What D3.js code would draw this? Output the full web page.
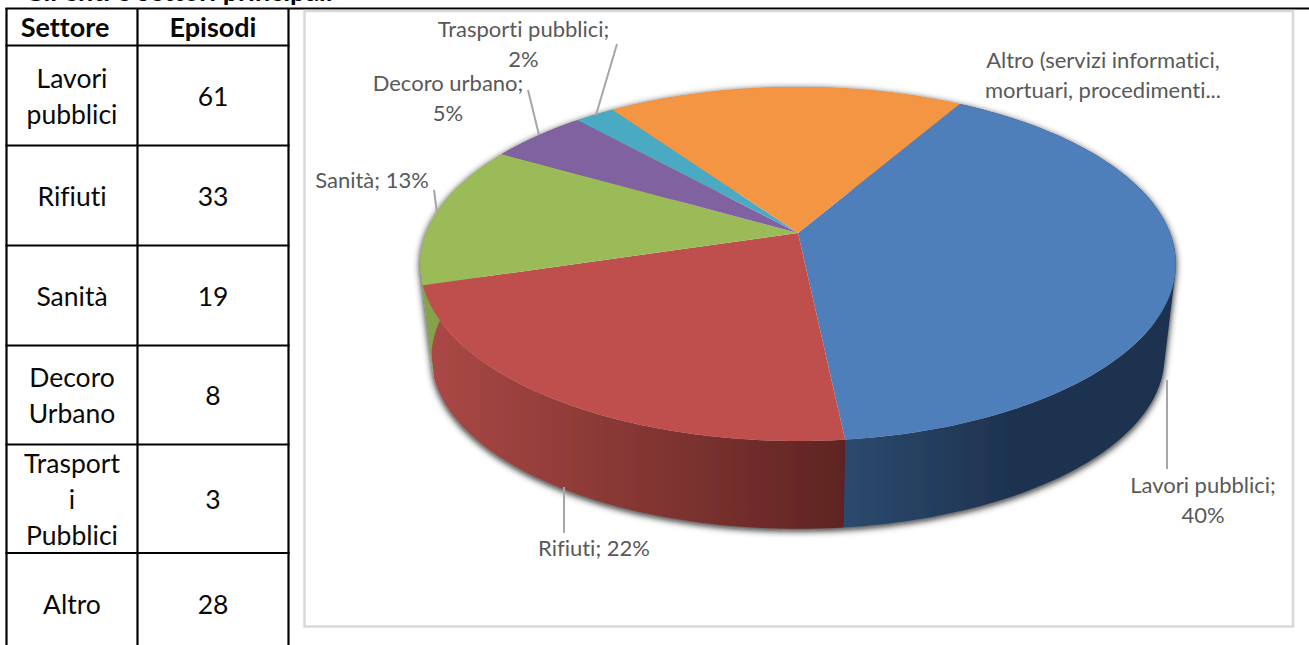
<!DOCTYPE html>
<html lang="it">
<head>
<meta charset="utf-8">
<title>Episodi per settore</title>
<script src="https://cdn.jsdelivr.net/npm/d3@7"></script>
<style>
  html, body { margin: 0; padding: 0; background: #fff; overflow: hidden; }
  svg { display: block; }
  text { font-family: Lato, "Open Sans", sans-serif; font-variant-ligatures: none; }
</style>
</head>
<body>
<svg id="chart" width="1309" height="645"></svg>
<script>
// Episodes per sector for the table, rounded percentage shares for the pie
const sectors = ["Lavori pubblici", "Rifiuti", "Sanità", "Decoro urbano", "Trasporti pubblici", "Altro"];
const episodes = [61, 33, 19, 8, 3, 28];
const shares = [40, 22, 13, 5, 2, 18];
const tableHeader = ["Settore", "Episodi"];
const tableSectorLines = [["Lavori", "pubblici"], ["Rifiuti"], ["Sanità"], ["Decoro", "Urbano"], ["Trasport", "i", "Pubblici"], ["Altro"]];
const topColors = ["#4f7fbb", "#bf4f4c", "#9bba58", "#8062a0", "#4aaac3", "#f49544"];
const wallFrom = ["#2b4a6e", "#aa4845", "#84a24a", "#6b5288", "#3d8fa5", "#d07a36"];
const wallTo = ["#1e3350", "#5f2422", "#84a24a", "#6b5288", "#3d8fa5", "#d07a36"];
const altroLabel = ["Altro (servizi informatici,", "mortuari, procedimenti..."];

const svg = d3.select("#chart");

/* ---------- table on the left ---------- */
const colX = [6.5, 137.5, 288.5];
const rowY = [8.5, 45.5, 145.5, 245.5, 345.5, 444.5, 553, 655];
const tableG = svg.append("g");
const tableText = { size: 26.5, lineGap: 36 };

colX.forEach(x => tableG.append("line")
  .attr("x1", x).attr("x2", x).attr("y1", 8).attr("y2", 645)
  .attr("stroke", "#000").attr("stroke-width", 2.2));
rowY.slice(1, 7).forEach(y => tableG.append("line")
  .attr("x1", 5.5).attr("x2", 289.5).attr("y1", y).attr("y2", y)
  .attr("stroke", "#000").attr("stroke-width", 2.2));

function cellText(lines, cx, top, bottom, opts = {}) {
  const mid = (top + bottom) / 2;
  const gap = tableText.lineGap;
  lines.forEach((line, i) => {
    tableG.append("text")
      .attr("x", cx)
      .attr("y", mid + (i - (lines.length - 1) / 2) * gap + 10)
      .attr("text-anchor", "middle")
      .attr("font-size", opts.size || tableText.size)
      .attr("font-weight", opts.weight || 400)
      .attr("fill", "#0a0a0a")
      .text(line);
  });
}
const headerX = [65, 213];
tableHeader.forEach((h, i) => cellText([h], headerX[i], rowY[0], rowY[1] - 1, { weight: 700, size: 27 }));
tableSectorLines.forEach((lines, i) => {
  cellText(lines, (colX[0] + colX[1]) / 2, rowY[i + 1], rowY[i + 2]);
  cellText([String(episodes[i])], (colX[1] + colX[2]) / 2, rowY[i + 1], rowY[i + 2]);
});

/* ---------- heading cut by the top edge of the page ---------- */
svg.append("text")
  .attr("x", 24).attr("y", 0.5)
  .attr("font-size", 27).attr("font-weight", 700).attr("fill", "#000")
  .text("Gli enti e settori principali");

/* ---------- chart frame ---------- */
svg.append("line").attr("x1", 5.5).attr("x2", 1309).attr("y1", 8.5).attr("y2", 8.5)
  .attr("stroke", "#000").attr("stroke-width", 2);
svg.append("rect")
  .attr("x", 304.5).attr("y", 11).attr("width", 988.5).attr("height", 615.5)
  .attr("fill", "#fff").attr("stroke", "#d9d9d9").attr("stroke-width", 2.5);

/* ---------- 3D pie with a perspective projection of the unit disc ---------- */
const view = { cx: 798, topCy: 233, baseCy: 327, rx: 372, ry: 171.6, k: 0.175, baseScale: 0.97 };

function project(theta, radius, base) {
  const u = radius * Math.sin(theta);
  const v = -radius * Math.cos(theta);
  const w = 1 - view.k * v;
  const s = base ? view.baseScale : 1;
  return [view.cx + s * view.rx * u / w, (base ? view.baseCy : view.topCy) + s * view.ry * v / w];
}

const pie = d3.pie().sort(null).startAngle(Math.PI / 6).endAngle(Math.PI / 6 + 2 * Math.PI);
const slices = pie(shares);
const topColor = d3.scaleOrdinal().domain(sectors).range(topColors);
const line = d3.line();

const arcPoints = (a, b, base) => d3.range(0, 121).map(i => project(a + (b - a) * i / 120, 1, base));

// The side of a slice is the sweep of its vertical generators: one quad per step,
// all wound the same way so that overlaps near the silhouette stay filled.
function wallPath(d) {
  const up = arcPoints(d.startAngle, d.endAngle, false);
  const low = arcPoints(d.startAngle, d.endAngle, true);
  return d3.range(up.length - 1).map(i => {
    const quad = [up[i], up[i + 1], low[i + 1], low[i]];
    return line(d3.polygonArea(quad) > 0 ? quad : quad.reverse()) + "Z";
  }).join("");
}

const defs = svg.append("defs");
const shadow = defs.append("filter").attr("id", "wallShadow")
  .attr("x", "-10%").attr("y", "-10%").attr("width", "120%").attr("height", "120%");
shadow.append("feDropShadow")
  .attr("dx", 0).attr("dy", 2).attr("stdDeviation", 3.5)
  .attr("flood-color", "#111").attr("flood-opacity", 0.95);

// Wall shading runs along x, from the lit flank towards the darker front
const wallRange = [[845, 1010], [431, 845], [420, 432], [420, 600], [560, 640], [600, 960]];
slices.forEach((d, i) => {
  const grad = defs.append("linearGradient").attr("id", `wall${i}`)
    .attr("gradientUnits", "userSpaceOnUse")
    .attr("x1", wallRange[i][0]).attr("x2", wallRange[i][1])
    .attr("y1", 0).attr("y2", 0);
  grad.append("stop").attr("offset", 0).attr("stop-color", wallFrom[i]);
  grad.append("stop").attr("offset", 1).attr("stop-color", wallTo[i]);
});

const walls = svg.append("g").attr("filter", "url(#wallShadow)");
walls.selectAll("path").data(slices).join("path")
  .attr("d", wallPath)
  .attr("fill", (d, i) => `url(#wall${i})`);

svg.append("g").selectAll("path").data(slices).join("path")
  .attr("d", d => line([project(0, 0, false)].concat(arcPoints(d.startAngle, d.endAngle, false))) + "Z")
  .attr("fill", (d, i) => topColor(sectors[i]));

/* ---------- data labels and leader lines ---------- */
const pct = v => `${v}%`;
const labelColor = "#595959";
const labelSize = 22;
const labelLead = 29.5;

const labelLayout = [
  { lines: [`${sectors[0]};`, pct(shares[0])], x: 1203, y: 493, leader: [[1167, 380], [1167, 469]] },
  { lines: [`${sectors[1]}; ${pct(shares[1])}`], x: 594, y: 556, leader: [[564, 487], [564, 533]] },
  { lines: [`${sectors[2]}; ${pct(shares[2])}`], x: 372, y: 188, leader: [[434, 190], [437, 213]] },
  { lines: [`${sectors[3]};`, pct(shares[3])], x: 448, y: 91, leader: [[528, 90], [539, 135]] },
  { lines: [`${sectors[4]};`, pct(shares[4])], x: 523.5, y: 37, leader: [[617, 44], [596, 115]] }
];

const leaders = svg.append("g").attr("stroke", "#a6a6a6").attr("stroke-width", 2).attr("fill", "none");
labelLayout.forEach(l => leaders.append("path").attr("d", line(l.leader)));

const labels = svg.append("g").attr("fill", labelColor).attr("font-size", labelSize).attr("text-anchor", "middle");
labelLayout.forEach(l => l.lines.forEach((t, j) => {
  labels.append("text").attr("x", l.x).attr("y", l.y + j * labelLead).text(t);
}));
altroLabel.forEach((t, j) => {
  labels.append("text").attr("x", 1103).attr("y", 68 + j * labelLead).text(t);
});
</script>
</body>
</html>
